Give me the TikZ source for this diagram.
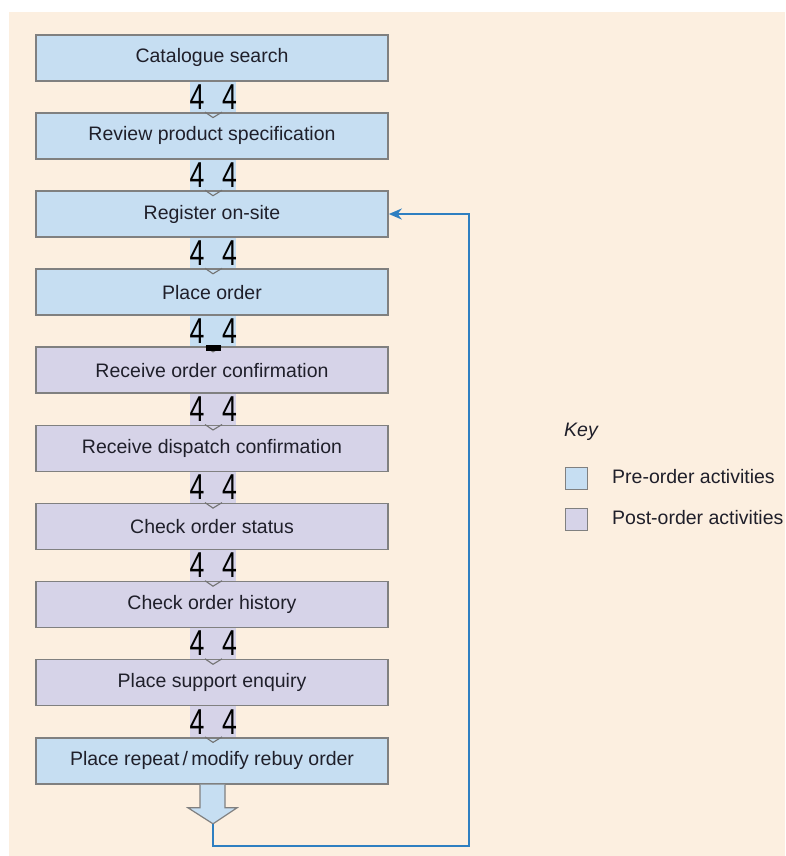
\documentclass[tikz,border=0pt]{standalone}
\usepackage{fontspec}
\setmainfont{Liberation Sans}
\usetikzlibrary{arrows.meta,calc}

\definecolor{bg}{HTML}{FCEFE0}
\definecolor{pre}{HTML}{C6DEF2}
\definecolor{post}{HTML}{D6D3E8}
\definecolor{edge}{HTML}{808080}
\definecolor{loopblue}{HTML}{2F7FC1}
\definecolor{ink}{HTML}{1F1F2A}

\begin{document}
\begin{tikzpicture}[x=1pt,y=-1pt,
  activity/.style={draw=edge, line width=1.6pt, minimum width=352pt,
    minimum height=46pt, anchor=north, inner sep=0pt, text=ink,
    font=\fontsize{19.5}{22}\selectfont},
  preact/.style={activity, fill=pre},
  postact/.style={activity, fill=post},
  glyph/.style={inner sep=0pt, text=black, font=\fontsize{36}{36}\selectfont},
  keybox/.style={draw=edge, line width=1.4pt, minimum size=22pt, inner sep=0pt},
  keytext/.style={anchor=west, inner sep=0pt, text=ink, font=\fontsize{19.5}{22}\selectfont},
  chev/.style={draw=edge!90!black, line width=1.1pt}
]
% canvas
\useasboundingbox (0,0) rectangle (785,856);
\fill[white] (0,0) rectangle (785,856);
\fill[bg] (9,12) rectangle (785,856);

% activity boxes
\node[preact]  (b1)  at (212,34)    {Catalogue search};
\node[preact]  (b2)  at (212,112.1) {Review product specification};
\node[preact]  (b3)  at (212,190.2) {Register on-site};
\node[preact]  (b4)  at (212,268.3) {Place order};
\node[postact] (b5)  at (212,346.4) {Receive order confirmation};
\node[postact] (b6)  at (212,424.5) {Receive dispatch confirmation};
\node[postact] (b7)  at (212,502.6) {Check order status};
\node[postact] (b8)  at (212,580.7) {Check order history};
\node[postact] (b9)  at (212,658.8) {Place support enquiry};
\node[preact]  (b10) at (212,736.9) {Place repeat\,/\,modify rebuy order};

% block-arrow connectors between consecutive boxes
\foreach \a/\b/\c in {b1/b2/pre, b2/b3/pre, b3/b4/pre, b4/b5/pre, b5/b6/post,
                      b6/b7/post, b7/b8/post, b8/b9/post, b9/b10/post}{
  \fill[\c] ($(\a.south)+(-22,0)$) rectangle ($(\b.north)+(24,0)$);
  \node[glyph] (\a-gl) at ($($(\a.south)!0.5!(\b.north)$)+(-15,0)$) {\scalebox{0.74}[1]{4}};
  \node[glyph] (\a-gr) at ($($(\a.south)!0.5!(\b.north)$)+(17.5,0)$) {\scalebox{0.74}[1]{4}};
  \draw[chev] ($(\b.north)+(-7,0)$) -- ($(\b.north)+(1,5.5)$) -- ($(\b.north)+(10,0)$);
}
\fill[black] ($(b5.north)+(-6,-1)$) rectangle ($(b5.north)+(9,5)$);

% final block arrow out of the last box
\coordinate (tip) at ($(b10.south)+(1,39.3)$);
\filldraw[fill=pre, draw=edge, line width=1.2pt]
  ($(b10.south)+(-12,0)$) -- ($(b10.south)+(-12,23.3)$) -- ($(b10.south)+(-24,23.3)$)
  -- (tip) -- ($(b10.south)+(25,23.3)$) -- ($(b10.south)+(13,23.3)$) -- ($(b10.south)+(13,0)$);

% return loop to registration
\coordinate (corner) at ($(tip)+(256,22)$);
\draw[loopblue, line width=2.2pt, -{Stealth[length=13pt,width=11pt]}]
  (tip) |- (corner) |- (b3.east);

% key
\node[anchor=west, inner sep=0pt, text=ink,
      font=\fontsize{19.5}{22}\selectfont\itshape] (keytitle) at (564,432) {Key};
\node[keybox, fill=pre]  (kpre)  at (576.5,478.5) {};
\node[keybox, fill=post] (kpost) at (576.5,519.5) {};
\node[keytext] (kpretext)  at (612,477) {Pre-order activities};
\node[keytext] (kposttext) at (612,518) {Post-order activities};
\end{tikzpicture}
\end{document}
